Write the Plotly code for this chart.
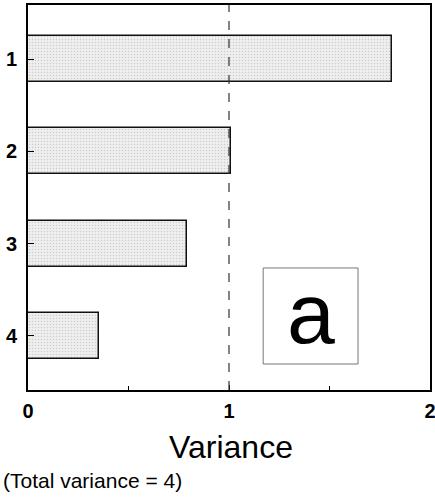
import plotly.graph_objects as go

# Variance explained by each component
components = [1, 2, 3, 4]
variance = [1.81, 1.01, 0.79, 0.355]
x_ticks = [0, 1, 2]

font_family = "Liberation Sans, Arial, sans-serif"

fig = go.Figure()

fig.add_trace(go.Bar(
    x=variance,
    y=components,
    orientation="h",
    width=0.5,
    marker=dict(
        color="#e6e6e6",
        line=dict(color="#111111", width=1.5),
        pattern=dict(shape=".", fgcolor="#a8a8a8", bgcolor="#efefef",
                     size=3, solidity=0.2),
    ),
    showlegend=False,
))

# reference line at variance = 1
fig.add_shape(type="line", xref="x", yref="paper", x0=1, x1=1, y0=0, y1=1,
              line=dict(color="#333333", width=1.2, dash="dash"))

# panel label box
fig.add_shape(type="rect", xref="paper", yref="paper",
              x0=0.585, x1=0.821, y0=0.0675, y1=0.317,
              line=dict(color="#777777", width=1))
fig.add_annotation(xref="paper", yref="paper", x=0.703, y=0.2,
                   xanchor="center", yanchor="middle",
                   text="a", showarrow=False,
                   font=dict(family=font_family, size=86, color="black",
                             weight=500))

fig.add_annotation(xref="paper", yref="paper", x=0.505, y=-0.148,
                   xanchor="center", yanchor="middle",
                   text="Variance", showarrow=False,
                   font=dict(family=font_family, size=32, color="black"))
fig.add_annotation(xref="paper", yref="paper", x=-0.068, y=-0.236,
                   xanchor="left", yanchor="middle",
                   text="(Total variance = 4)", showarrow=False,
                   font=dict(family=font_family, size=21, color="black"))

fig.update_xaxes(
    range=[0, 2], tickvals=x_ticks, ticktext=[str(v) for v in x_ticks],
    ticks="inside", ticklen=5, tickcolor="black",
    minor=dict(ticks="inside", dtick=0.5, ticklen=4, tickcolor="black"),
    showline=True, linecolor="black", linewidth=2, mirror=True,
    showgrid=False, zeroline=False, automargin=False,
    ticklabeloverflow="allow", ticklabelstandoff=2,
    tickfont=dict(family=font_family, size=20, color="black", weight="bold"),
)
fig.update_yaxes(
    range=[4.59, 0.41], tickvals=components,
    ticktext=[str(c) for c in components],
    ticks="inside", ticklen=6, tickcolor="black",
    showline=True, linecolor="black", linewidth=2, mirror=True,
    showgrid=False, zeroline=False, automargin=False,
    ticklabeloverflow="allow", ticklabelstandoff=5,
    tickfont=dict(family=font_family, size=20, color="black", weight="bold"),
)

fig.update_layout(
    width=435, height=497,
    margin=dict(l=28, r=5, t=5, b=107),
    paper_bgcolor="white", plot_bgcolor="white",
    bargap=0,
)

fig.write_html("out.html")
